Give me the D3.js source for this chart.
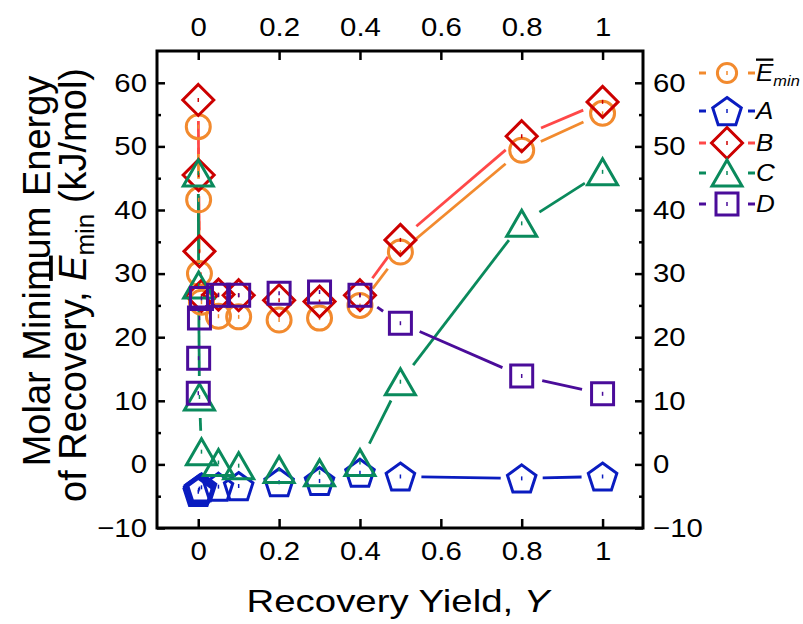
<!DOCTYPE html>
<html>
<head>
<meta charset="utf-8">
<script src="https://cdn.jsdelivr.net/npm/d3@7"></script>
<style>
  body { margin: 0; background: #fff; }
  svg { display: block; font-family: "Liberation Sans", Arial, sans-serif; }
</style>
</head>
<body>
<div id="container"></div>
<script>
// recovery yield values (x)
const yieldY = [0.0001, 0.001, 0.003, 0.008, 0.05, 0.1, 0.2, 0.3, 0.4, 0.5, 0.8, 1];
// molar minimum energy for each series (kJ/mol)
const eMin = [53.1, 41.6, 30.0, 25.5, 23.3, 23.2, 22.7, 23.0, 25.0, 33.4, 49.4, 55.2];
const seriesA = [-4.3, -4.0, -3.8, -3.6, -3.5, -3.4, -2.8, -2.6, -1.3, -1.9, -2.2, -1.9];
const seriesB = [57.3, 45.5, 33.5, 26.5, 26.7, 26.6, 25.8, 25.6, 26.6, 35.3, 51.6, 57.0];
const seriesC = [45.8, 28.2, 10.6, 2.0, 0.3, -0.2, -0.8, -1.3, 0.3, 13.0, 37.9, 46.0];
const seriesD = [11.2, 16.7, 23.0, 26.1, 26.6, 26.6, 26.9, 27.1, 26.6, 22.2, 13.9, 11.1];

const xTicks = [0, 0.2, 0.4, 0.6, 0.8, 1];
const yTicks = [-10, 0, 10, 20, 30, 40, 50, 60];
const yMinor = [-5, 5, 15, 25, 35, 45, 55];

const width = 803, height = 624;
const plotL = 157, plotR = 643, plotT = 51, plotB = 528;
const stretch = 1.13; // text in the reference is a bit wider than Arial

const series = [
    { name: "Emin", values: eMin, color: "#f28a2e", line: "#f28a2e", shape: "circle" },
    { name: "A", values: seriesA, color: "#0a1cc0", line: "#0a1cc0", shape: "pentagon" },
    { name: "B", values: seriesB, color: "#cc0000", line: "#ff4848", shape: "diamond" },
    { name: "C", values: seriesC, color: "#0a8a5c", line: "#0a8a5c", shape: "triangle" },
    { name: "D", values: seriesD, color: "#4a0c9a", line: "#4a0c9a", shape: "square" }
];

const svg = d3.select('#container')
    .append('svg')
    .attr('width', width)
    .attr('height', height)

const x = d3.scaleLinear().domain([-0.102, 1.1]).range([plotL, plotR]);
const y = d3.scaleLinear().domain([-10, 65]).range([plotB, plotT]);

// marker shapes
function markerPath(shape, s) {
    const p = d3.path();
    if (shape === "circle") {
        const r = 12 * s;
        p.moveTo(r, 0);
        p.arc(0, 0, r, 0, Math.PI * 2);
    } else if (shape === "square") {
        const h = 11 * s;
        p.rect(-h, -h, 2 * h, 2 * h);
    } else if (shape === "diamond") {
        const h = 15.5 * s;
        p.moveTo(0, -h); p.lineTo(h, 0); p.lineTo(0, h); p.lineTo(-h, 0); p.closePath();
    } else if (shape === "triangle") {
        const w = 15 * s, hh = 13 * s;
        p.moveTo(0, -hh); p.lineTo(w, hh); p.lineTo(-w, hh); p.closePath();
    } else if (shape === "pentagon") {
        const r = 15 * s;
        for (let i = 0; i < 5; i++) {
            const a = -Math.PI / 2 + i * 2 * Math.PI / 5;
            const px = r * Math.cos(a), py = r * Math.sin(a) + 1.5 * s;
            if (i === 0) p.moveTo(px, py); else p.lineTo(px, py);
        }
        p.closePath();
    }
    return p.toString();
}

// axes (ticks pointing inward)
const axisStyle = g => {
    g.select('.domain').remove();
    g.selectAll('.tick line').attr('stroke', '#000').attr('stroke-width', 2.5);
    g.selectAll('.tick text').each(function () {
        const t = d3.select(this);
        const tx = +t.attr('x') || 0;
        t.attr('x', 0)
            .attr('transform', `translate(${tx},0) scale(${stretch},1)`)
            .attr('font-size', 26).attr('fill', '#000')
            .attr('font-family', '"Liberation Sans", Arial, sans-serif');
    });
};
const fmt = d3.format('~g');

svg.append('g').attr('transform', `translate(0,${plotB})`)
    .call(d3.axisBottom(x).tickValues(xTicks).tickSize(-9).tickPadding(14).tickFormat(fmt))
    .call(axisStyle);
svg.append('g').attr('transform', `translate(0,${plotT})`)
    .call(d3.axisTop(x).tickValues(xTicks).tickSize(-9).tickPadding(15).tickFormat(fmt))
    .call(axisStyle);
svg.append('g').attr('transform', `translate(${plotL},0)`)
    .call(d3.axisLeft(y).tickValues(yTicks).tickSize(-8).tickPadding(10).tickFormat(fmt))
    .call(axisStyle);
svg.append('g').attr('transform', `translate(${plotR},0)`)
    .call(d3.axisRight(y).tickValues(yTicks).tickSize(-8).tickPadding(10).tickFormat(fmt))
    .call(axisStyle);
// minor ticks
svg.append('g').attr('transform', `translate(${plotL},0)`)
    .call(d3.axisLeft(y).tickValues(yMinor).tickSize(-4).tickFormat(''))
    .call(axisStyle);
svg.append('g').attr('transform', `translate(${plotR},0)`)
    .call(d3.axisRight(y).tickValues(yMinor).tickSize(-4).tickFormat(''))
    .call(axisStyle);

// frame
svg.append('rect')
    .attr('x', plotL).attr('y', plotT)
    .attr('width', plotR - plotL).attr('height', plotB - plotT)
    .attr('fill', 'none').attr('stroke', '#000').attr('stroke-width', 3);

// lines with gaps around markers
const gap = 21;
const plot = svg.append('g');
series.forEach(s => {
    const pts = yieldY.map((v, i) => [x(v), y(s.values[i])]);
    const segs = [];
    for (let i = 0; i < pts.length - 1; i++) {
        const [x1, y1] = pts[i], [x2, y2] = pts[i + 1];
        const len = Math.hypot(x2 - x1, y2 - y1);
        if (len <= 2 * gap + 2) continue;
        const ux = (x2 - x1) / len, uy = (y2 - y1) / len;
        segs.push([x1 + ux * gap, y1 + uy * gap, x2 - ux * gap, y2 - uy * gap]);
    }
    plot.append('g').selectAll('line').data(segs).enter().append('line')
        .attr('x1', d => d[0]).attr('y1', d => d[1])
        .attr('x2', d => d[2]).attr('y2', d => d[3])
        .attr('stroke', s.line).attr('stroke-width', 2.8);
});

// markers
series.forEach(s => {
    const g = plot.append('g').selectAll('g')
        .data(yieldY.map((v, i) => [v, s.values[i]]))
        .enter().append('g')
        .attr('transform', d => `translate(${x(d[0])},${y(d[1])})`);
    g.append('path')
        .attr('d', markerPath(s.shape, 1))
        .attr('fill', 'none').attr('stroke', s.color).attr('stroke-width', 3)
        .attr('stroke-linejoin', 'miter');
    g.append('line')
        .attr('x1', 0).attr('x2', 0).attr('y1', -2).attr('y2', 2)
        .attr('stroke', s.color).attr('stroke-width', 1.5);
});

// legend
const legendRows = [73, 111, 143, 173, 204];
const legend = svg.append('g');
series.forEach((s, i) => {
    const ly = legendRows[i];
    const g = legend.append('g').attr('transform', `translate(727,${ly})`);
    g.append('line').attr('x1', -28).attr('x2', -21).attr('y1', 0).attr('y2', 0)
        .attr('stroke', s.line).attr('stroke-width', 3);
    g.append('line').attr('x1', 21).attr('x2', 28).attr('y1', 0).attr('y2', 0)
        .attr('stroke', s.line).attr('stroke-width', 3);
    g.append('path')
        .attr('d', markerPath(s.shape, s.shape === 'circle' ? 0.8 : 1))
        .attr('fill', 'none').attr('stroke', s.color).attr('stroke-width', 3);
    g.append('line').attr('x1', 0).attr('x2', 0).attr('y1', -2).attr('y2', 2)
        .attr('stroke', s.color).attr('stroke-width', 1.5);
    const t = g.append('text')
        .attr('transform', `translate(29,8) scale(${stretch},1)`)
        .attr('font-size', 23).attr('font-style', 'italic').attr('fill', '#000');
    if (s.name === 'Emin') {
        t.append('tspan').attr('text-decoration', 'overline').text('E');
        t.append('tspan').attr('font-size', 14.5).attr('dy', 5).text('min');
    } else {
        t.text(s.name);
    }
});

// axis titles
svg.append('text')
    .attr('transform', `translate(398,612) scale(1.2,1)`)
    .attr('text-anchor', 'middle').attr('font-size', 32).attr('fill', '#000')
    .text('Recovery Yield, ')
    .append('tspan').attr('font-style', 'italic').text('Y');

svg.append('text')
    .attr('transform', 'translate(50,271) rotate(-90)')
    .attr('text-anchor', 'middle').attr('font-size', 38).attr('fill', '#000')
    .text('Molar Minimum Energy');

const t2 = svg.append('text')
    .attr('transform', 'translate(86,285) rotate(-90)')
    .attr('text-anchor', 'middle').attr('font-size', 38).attr('fill', '#000');
t2.append('tspan').text('of Recovery, ');
t2.append('tspan').attr('font-style', 'italic').attr('text-decoration', 'overline').text('E');
t2.append('tspan').attr('font-size', 26).attr('dy', 8).text('min');
t2.append('tspan').attr('dy', -8).text(' (kJ/mol)');
</script>
</body>
</html>
